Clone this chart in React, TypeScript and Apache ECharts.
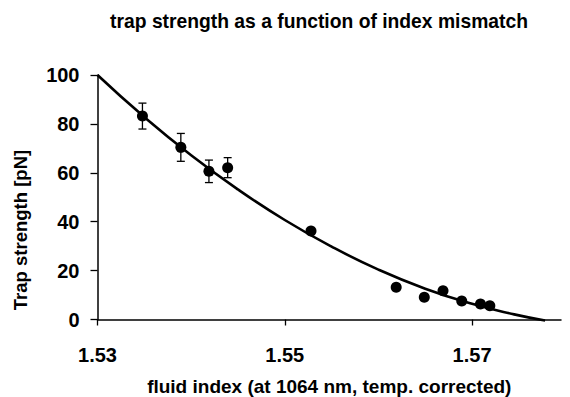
import React, { useEffect, useRef } from "react";
import * as echarts from "echarts";

const titleText = "trap strength as a function of index mismatch";
const xName = "fluid index (at 1064 nm, temp. corrected)";
const yName = "Trap strength [pN]";

const xTicks = [1.53, 1.55, 1.57];

// measured points [fluid index, trap strength]
const pointX = [1.5348, 1.5389, 1.5419, 1.5439, 1.5528, 1.5619, 1.5649, 1.5669, 1.5689, 1.5709, 1.5719];
const pointY = [83.2, 70.4, 60.6, 62.1, 36.2, 13.2, 9.1, 11.8, 7.6, 6.3, 5.6];
// error bar half-widths (only first four visible)
const pointErr = [5.3, 5.7, 4.6, 4.1, 0, 0, 0, 0, 0, 0, 0];

// fitted trend curve
const curveX = [1.53, 1.535, 1.54, 1.545, 1.55, 1.555, 1.56, 1.565, 1.57, 1.5745, 1.5778];
const curveY = [100, 82.8, 67.2, 53.2, 40.7, 29.8, 20.4, 12.6, 6.4, 2.1, -0.4];

const FONT = "Liberation Sans, Arial, sans-serif";

export default function App() {
  const ref = useRef<HTMLDivElement>(null);
  useEffect(() => {
    document.body.style.margin = "0";
    const chart = echarts.init(ref.current!, null, { renderer: "svg" });
    const points = pointX.map((x, i) => [x, pointY[i]]);
    const errData = pointX
      .map((x, i) => [x, pointY[i] - pointErr[i], pointY[i] + pointErr[i]])
      .filter((d, i) => pointErr[i] > 0);
    const curve = curveX.map((x, i) => [x, curveY[i]]);
    chart.setOption({
      animation: false,
      backgroundColor: "#ffffff",
      grid: { left: 97.5, right: 9, top: 75, bottom: 77.5, containLabel: false, outerBoundsMode: "none" },
      xAxis: {
        type: "value",
        min: 1.53,
        max: 1.5795,
        name: xName,
        nameLocation: "middle",
        nameGap: 57,
        nameTextStyle: { fontFamily: FONT, fontWeight: "bold", fontSize: 19, color: "#000" },
        axisLine: { show: true, onZero: false, lineStyle: { color: "#000", width: 1.5 } },
        axisTick: { show: true, length: 6, inside: false, customValues: xTicks, lineStyle: { color: "#000", width: 1.3 } },
        axisLabel: {
          customValues: xTicks,
          margin: 25,
          fontFamily: FONT,
          fontWeight: "bold",
          fontSize: 20,
          color: "#000",
          formatter: (v: number) => v.toFixed(2),
        },
        splitLine: { show: false },
      },
      yAxis: {
        type: "value",
        min: 0,
        max: 100,
        interval: 20,
        axisLine: { show: true, onZero: false, lineStyle: { color: "#000", width: 1.5 } },
        axisTick: { show: true, length: 7, inside: false, lineStyle: { color: "#000", width: 1.3 } },
        axisLabel: { margin: 18, fontFamily: FONT, fontWeight: "bold", fontSize: 20, color: "#000" },
        splitLine: { show: false },
      },
      graphic: [
        {
          type: "text",
          x: 319,
          y: 21,
          style: {
            text: titleText,
            fontFamily: FONT,
            fontWeight: "bold",
            fontSize: 19.3,
            fill: "#000",
            align: "center",
            verticalAlign: "middle",
          },
        },
        {
          type: "text",
          x: 20,
          y: 230,
          rotation: Math.PI / 2,
          style: {
            text: yName,
            fontFamily: FONT,
            fontWeight: "bold",
            fontSize: 18.5,
            fill: "#000",
            align: "center",
            verticalAlign: "middle",
          },
        },
      ],
      series: [
        {
          type: "line",
          data: curve,
          smooth: true,
          showSymbol: false,
          clip: false,
          lineStyle: { color: "#000", width: 2.6 },
          z: 2,
        },
        {
          type: "custom",
          data: errData,
          z: 3,
          renderItem: (params: any, api: any) => {
            const x = api.value(0);
            const lo = api.coord([x, api.value(1)]);
            const hi = api.coord([x, api.value(2)]);
            const hw = 4;
            const style = { stroke: "#000", lineWidth: 1.3 };
            return {
              type: "group",
              children: [
                { type: "line", shape: { x1: lo[0], y1: lo[1], x2: hi[0], y2: hi[1] }, style },
                { type: "line", shape: { x1: lo[0] - hw, y1: lo[1], x2: lo[0] + hw, y2: lo[1] }, style },
                { type: "line", shape: { x1: hi[0] - hw, y1: hi[1], x2: hi[0] + hw, y2: hi[1] }, style },
              ],
            };
          },
        },
        {
          type: "scatter",
          data: points,
          symbol: "circle",
          symbolSize: 11,
          itemStyle: { color: "#000", opacity: 1 },
          z: 4,
        },
      ],
    });
    return () => chart.dispose();
  }, []);
  return (
    <div
      ref={ref}
      style={{ position: "fixed", left: 0, top: 0, width: 570, height: 397 }}
    />
  );
}
